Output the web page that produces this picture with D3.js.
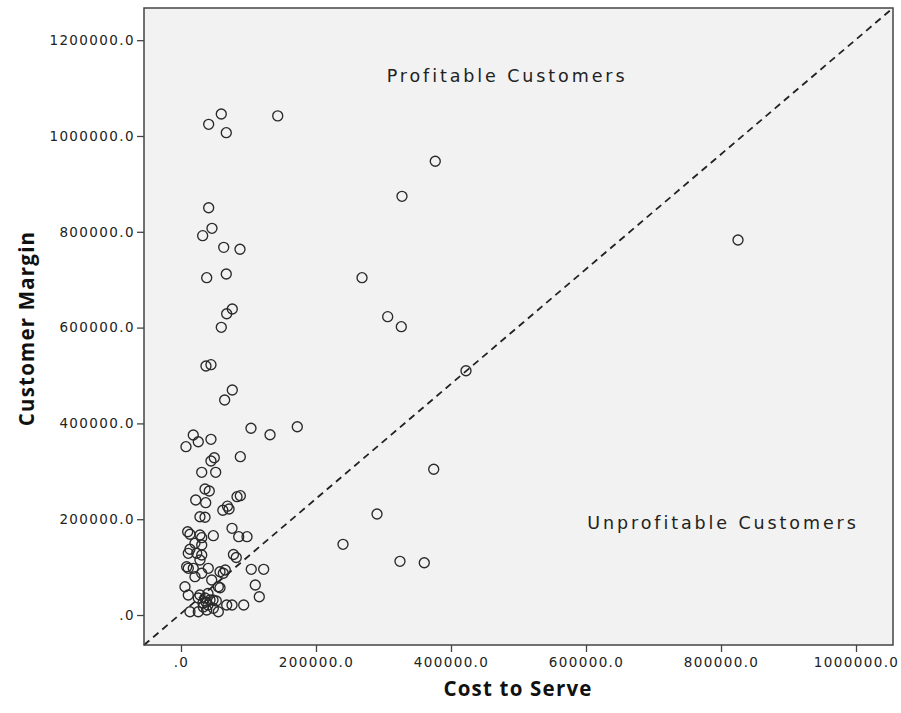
<!DOCTYPE html>
<html>
<head>
<meta charset="utf-8">
<script src="https://cdn.jsdelivr.net/npm/d3@7"></script>
<style>
  html, body { margin: 0; padding: 0; background: #ffffff; }
  svg { display: block; }
</style>
</head>
<body>
<script>
// ---- Data ----
const costToServe = [
  59700, 143300, 41000, 67100, 376700, 327400, 41000, 45900, 32100, 63300,
  87400, 825200, 38100, 67100, 268200, 76000, 67700, 59700, 306200, 326400,
  422200, 37000, 44400, 76000, 64700, 103700, 131900, 172300, 18200, 7400,
  25600, 44400, 49300, 44400, 87900, 374400, 30700, 51400, 35600, 41900,
  21800, 36600, 83000, 87900, 62000, 68800, 71200, 290400, 28100, 35600,
  9900, 13300, 28100, 30700, 47900, 75600, 85500, 97800, 20700, 30700,
  240000, 13300, 10800, 23300, 30700, 77700, 81900, 324400, 360400, 8400,
  10800, 18200, 28100, 40400, 30700, 57800, 62700, 65600, 104100, 122500,
  45500, 5900, 55300, 110100, 116000, 10800, 28100, 35600, 43000, 32600,
  40000, 47400, 25600, 37000, 52300, 13300, 25600, 38100, 47900, 55300,
  67700, 75600, 92900, 57800, 20700, 40000, 33000
];
const customerMargin = [
  1046000, 1042000, 1024400, 1006900, 947200, 874100, 850300, 807300, 791900, 767600,
  763500, 782900, 704200, 711900, 704200, 638800, 629000, 600600, 622800, 601900,
  510000, 519800, 522600, 469800, 448900, 389800, 376400, 393100, 375800, 351400,
  361800, 366800, 328400, 321500, 330500, 304200, 297900, 297900, 263100, 258900,
  240100, 234500, 247000, 249100, 218600, 227200, 221300, 210900, 205200, 204000,
  173900, 168500, 167000, 161400, 165600, 181000, 163500, 163500, 149700, 146100,
  147600, 137200, 128800, 128800, 125300, 126300, 120000, 112100, 109200, 100800,
  97500, 97500, 114800, 97500, 87100, 90400, 87100, 93900, 95400, 95400,
  73100, 59100, 59100, 62600, 38200, 41800, 41800, 35500, 31300, 25000,
  21000, 31300, 35500, 27000, 29200, 6900, 6900, 10400, 14000, 6900,
  20900, 20900, 20900, 57000, 80000, 45000, 17000
];
const xTicks = [0, 200000, 400000, 600000, 800000, 1000000];
const yTicks = [0, 200000, 400000, 600000, 800000, 1000000, 1200000];
const xDomain = [-54800, 1054800];
const yDomain = [-62600, 1267200];
const xTitle = "Cost to Serve";
const yTitle = "Customer Margin";
const regionLabels = ["Profitable Customers", "Unprofitable Customers"];
const regionAnchors = [[483000, 1112000], [803000, 179500]];

// ---- Layout ----
const W = 901, H = 713;
const plot = { left: 144, right: 893, top: 8, bottom: 645 };

const svg = d3.select("body").append("svg").attr("width", W).attr("height", H);

const x = d3.scaleLinear().domain(xDomain).range([plot.left, plot.right]);
const y = d3.scaleLinear().domain(yDomain).range([plot.bottom, plot.top]);

const fmt = v => v === 0 ? ".0" : d3.format(".1f")(v);

// plot background
svg.append("rect")
  .attr("x", plot.left).attr("y", plot.top)
  .attr("width", plot.right - plot.left).attr("height", plot.bottom - plot.top)
  .attr("fill", "#f2f2f2");

// diagonal reference line (corner to corner)
svg.append("line")
  .attr("x1", x(xDomain[0])).attr("y1", y(yDomain[0]))
  .attr("x2", x(xDomain[1])).attr("y2", y(yDomain[1]))
  .attr("stroke", "#222").attr("stroke-width", 1.8)
  .attr("stroke-dasharray", "7,5");

// points
svg.append("g").selectAll("circle")
  .data(costToServe.map((c, i) => [c, customerMargin[i]]))
  .join("circle")
  .attr("cx", d => x(d[0])).attr("cy", d => y(d[1]))
  .attr("r", 5)
  .attr("fill", "none").attr("stroke", "#2a2a2a").attr("stroke-width", 1.35);

// region labels
svg.append("g").selectAll("text")
  .data(regionLabels)
  .join("text")
  .attr("x", (d, i) => x(regionAnchors[i][0]))
  .attr("y", (d, i) => y(regionAnchors[i][1]))
  .attr("text-anchor", "middle")
  .attr("font-family", "DejaVu Sans, sans-serif")
  .attr("font-size", 17.5).attr("letter-spacing", 2.9)
  .attr("fill", "#222")
  .text(d => d);

// axes
const xAxis = d3.axisBottom(x).tickValues(xTicks).tickFormat(fmt).tickSize(7).tickPadding(5);
const yAxis = d3.axisLeft(y).tickValues(yTicks).tickFormat(fmt).tickSize(7).tickPadding(2);

const gx = svg.append("g").attr("transform", `translate(0,${plot.bottom})`).call(xAxis);
const gy = svg.append("g").attr("transform", `translate(${plot.left},0)`).call(yAxis);
[gx, gy].forEach(g => {
  g.select(".domain").remove();
  g.selectAll(".tick line").attr("stroke", "#444").attr("stroke-width", 1.3);
  g.selectAll(".tick text")
    .attr("font-family", "DejaVu Sans, sans-serif")
    .attr("font-size", 13.5).attr("letter-spacing", 1.4)
    .attr("fill", "#222");
});

// frame
svg.append("rect")
  .attr("x", plot.left).attr("y", plot.top)
  .attr("width", plot.right - plot.left).attr("height", plot.bottom - plot.top)
  .attr("fill", "none").attr("stroke", "#444").attr("stroke-width", 1.5);

// axis titles
svg.append("text")
  .attr("x", 518).attr("y", 696)
  .attr("text-anchor", "middle")
  .attr("font-family", "Open Sans, sans-serif").attr("font-weight", "bold")
  .attr("font-size", 20.5).attr("letter-spacing", 1.2).attr("fill", "#111")
  .text(xTitle);

svg.append("text")
  .attr("transform", `translate(34,${(plot.top + plot.bottom) / 2 + 2}) rotate(-90)`)
  .attr("text-anchor", "middle")
  .attr("font-family", "Open Sans, sans-serif").attr("font-weight", "bold")
  .attr("font-size", 20.5).attr("letter-spacing", 1.2).attr("fill", "#111")
  .text(yTitle);
</script>
</body>
</html>
